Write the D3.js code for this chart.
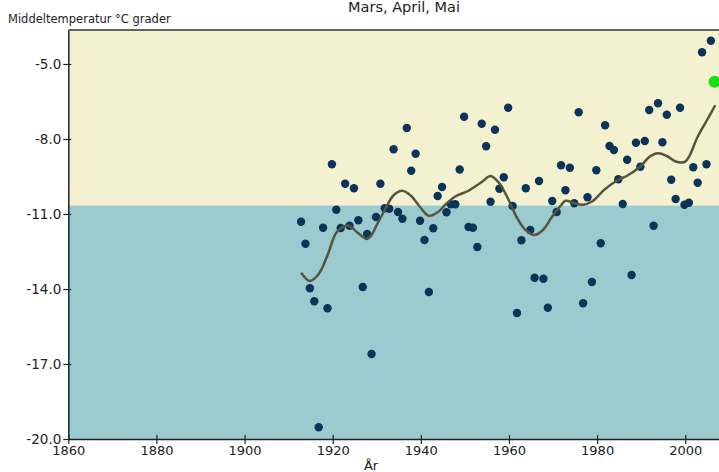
<!DOCTYPE html>
<html>
<head>
<meta charset="utf-8">
<script src="https://cdn.jsdelivr.net/npm/d3@7"></script>
<style>
  html, body { margin: 0; padding: 0; background: #fff; overflow: hidden; }
  svg { display: block; }
  text { font-family: "DejaVu Sans", sans-serif; fill: #222; }
</style>
</head>
<body>
<svg id="chart" width="719" height="472"></svg>
<script>
// Spring (March–May) mean temperature, one value per year
const years = d3.range(1913, 2007);
const temps = [
  -11.31, -12.19, -13.97, -14.49, -19.53, -11.55, -14.77, -9.01, -10.83, -11.56,
  -9.79, -11.47, -9.97, -11.25, -13.92, -11.80, -16.60, -11.12, -9.79, -10.77,
  -10.79, -8.41, -10.92, -11.19, -7.56, -9.27, -8.59, -11.27, -12.04, -14.12,
  -11.57, -10.28, -9.92, -10.93, -10.61, -10.61, -9.22, -7.11, -11.52, -11.55,
  -12.32, -7.39, -8.29, -10.51, -7.63, -9.99, -9.53, -6.75, -10.68, -14.96,
  -12.05, -9.97, -11.64, -13.55, -9.68, -13.59, -14.75, -10.48, -10.92, -9.05,
  -10.05, -9.15, -10.57, -6.93, -14.57, -10.33, -13.72, -9.25, -12.17, -7.45,
  -8.28, -8.44, -9.61, -10.60, -8.83, -13.44, -8.15, -9.11, -8.08, -6.84,
  -11.47, -6.57, -8.13, -7.03, -9.63, -10.40, -6.75, -10.63, -10.55, -9.13,
  -9.75, -4.53, -9.01, -4.07
];

// Current year, highlighted
const currentYear = 2007;
const currentTemp = -5.71;

// Smoothed trend
const trendYears = [
  1913, 1915, 1917, 1919, 1921, 1923, 1924, 1926, 1928, 1929, 1930, 1932, 1934,
  1936, 1938, 1940, 1942, 1944, 1946, 1948, 1951, 1954, 1956, 1958, 1960, 1962,
  1964, 1966, 1968, 1970, 1972, 1973, 1975, 1977, 1979, 1982, 1985, 1987, 1990,
  1992, 1994, 1996, 1998, 2000, 2001, 2003, 2005, 2007
];
const trendTemps = [
  -13.35, -13.68, -13.40, -12.65, -11.75, -11.48, -11.48, -11.77, -12.00, -11.84,
  -11.50, -10.84, -10.25, -10.07, -10.28, -10.72, -11.07, -10.93, -10.58, -10.30,
  -10.07, -9.72, -9.48, -9.77, -10.40, -11.15, -11.65, -11.84, -11.62, -11.10,
  -10.65, -10.47, -10.57, -10.63, -10.50, -10.00, -9.63, -9.47, -9.10, -8.72,
  -8.57, -8.68, -8.90, -8.92, -8.72, -7.91, -7.28, -6.65
];

// Long-term normal separating warm and cold band
const normalTemp = -10.66;

const xTicks = [1860, 1880, 1900, 1920, 1940, 1960, 1980, 2000];
const yTicks = [-20, -17, -14, -11, -8, -5];

const svg = d3.select("#chart");
const plot = { left: 68.3, top: 30, bottom: 439, right: 720.5 };

const x = d3.scaleLinear().domain([1860, 2008]).range([plot.left, plot.right]);
const y = d3.scaleLinear().domain([-20, -3.64]).range([plot.bottom, plot.top]);

svg.append("rect").attr("width", 719).attr("height", 472).attr("fill", "#fff");

// Warm band above the normal, cold band below
svg.append("rect")
  .attr("x", plot.left).attr("y", plot.top)
  .attr("width", plot.right - plot.left).attr("height", y(normalTemp) - plot.top)
  .attr("fill", "#f3f1cf");
svg.append("rect")
  .attr("x", plot.left).attr("y", y(normalTemp))
  .attr("width", plot.right - plot.left).attr("height", plot.bottom - y(normalTemp))
  .attr("fill", "#9bcbcf");

// Frame top edge
svg.append("line")
  .attr("x1", plot.left).attr("x2", plot.right)
  .attr("y1", plot.top).attr("y2", plot.top)
  .attr("stroke", "#333").attr("stroke-width", 1.5);

// Axes
const xAxis = d3.axisBottom(x).tickValues(xTicks).tickFormat(d3.format("d"))
  .tickSizeInner(5).tickSizeOuter(0).tickPadding(2);
const gx = svg.append("g").attr("transform", `translate(0,${plot.bottom})`).call(xAxis);
gx.select(".domain").attr("stroke", "#222").attr("stroke-width", 1.5);
gx.selectAll(".tick line").attr("stroke", "#222").attr("y1", -4).attr("stroke-width", 1.2);
gx.selectAll(".tick text").attr("font-size", 13).attr("fill", "#222");

// Plain hyphen for negative labels
const fmtY = d => d3.format(".1f")(d).replace("\u2212", "-");
const yAxis = d3.axisLeft(y).tickValues(yTicks).tickFormat(fmtY)
  .tickSizeInner(5).tickSizeOuter(0).tickPadding(2);
const gy = svg.append("g").attr("transform", `translate(${plot.left},0)`).call(yAxis);
gy.select(".domain").attr("stroke", "#222").attr("stroke-width", 1.5);
gy.selectAll(".tick line").attr("stroke", "#222").attr("x1", 3).attr("stroke-width", 1.2);
gy.selectAll(".tick text").attr("font-size", 13.5).attr("fill", "#222");

// Yearly values
svg.append("g").selectAll("circle")
  .data(years.map((yr, i) => ({ yr, t: temps[i] })))
  .join("circle")
  .attr("cx", d => x(d.yr) - 0.8)
  .attr("cy", d => y(d.t))
  .attr("r", 4.2)
  .attr("fill", "#0b3459");

// Smoothed trend line
const trendLine = d3.line()
  .x((d, i) => x(trendYears[i]) - 0.8)
  .y(d => y(d))
  .curve(d3.curveCatmullRom.alpha(0.5));
svg.append("path")
  .attr("d", trendLine(trendTemps))
  .attr("fill", "none")
  .attr("stroke", "#575440")
  .attr("stroke-width", 2.5)
  .attr("stroke-linejoin", "round");

// Current year
svg.append("circle")
  .attr("cx", x(currentYear) - 1.5)
  .attr("cy", y(currentTemp))
  .attr("r", 6)
  .attr("fill", "#14e014");

// Titles
svg.append("text")
  .attr("x", 404).attr("y", 12)
  .attr("text-anchor", "middle")
  .attr("font-size", 14.5)
  .text("Mars, April, Mai");
svg.append("text")
  .attr("x", 8).attr("y", 23)
  .attr("font-size", 11.5)
  .text("Middeltemperatur °C grader");
svg.append("text")
  .attr("x", 371).attr("y", 470)
  .attr("text-anchor", "middle")
  .attr("font-size", 13)
  .text("År");
</script>
</body>
</html>
